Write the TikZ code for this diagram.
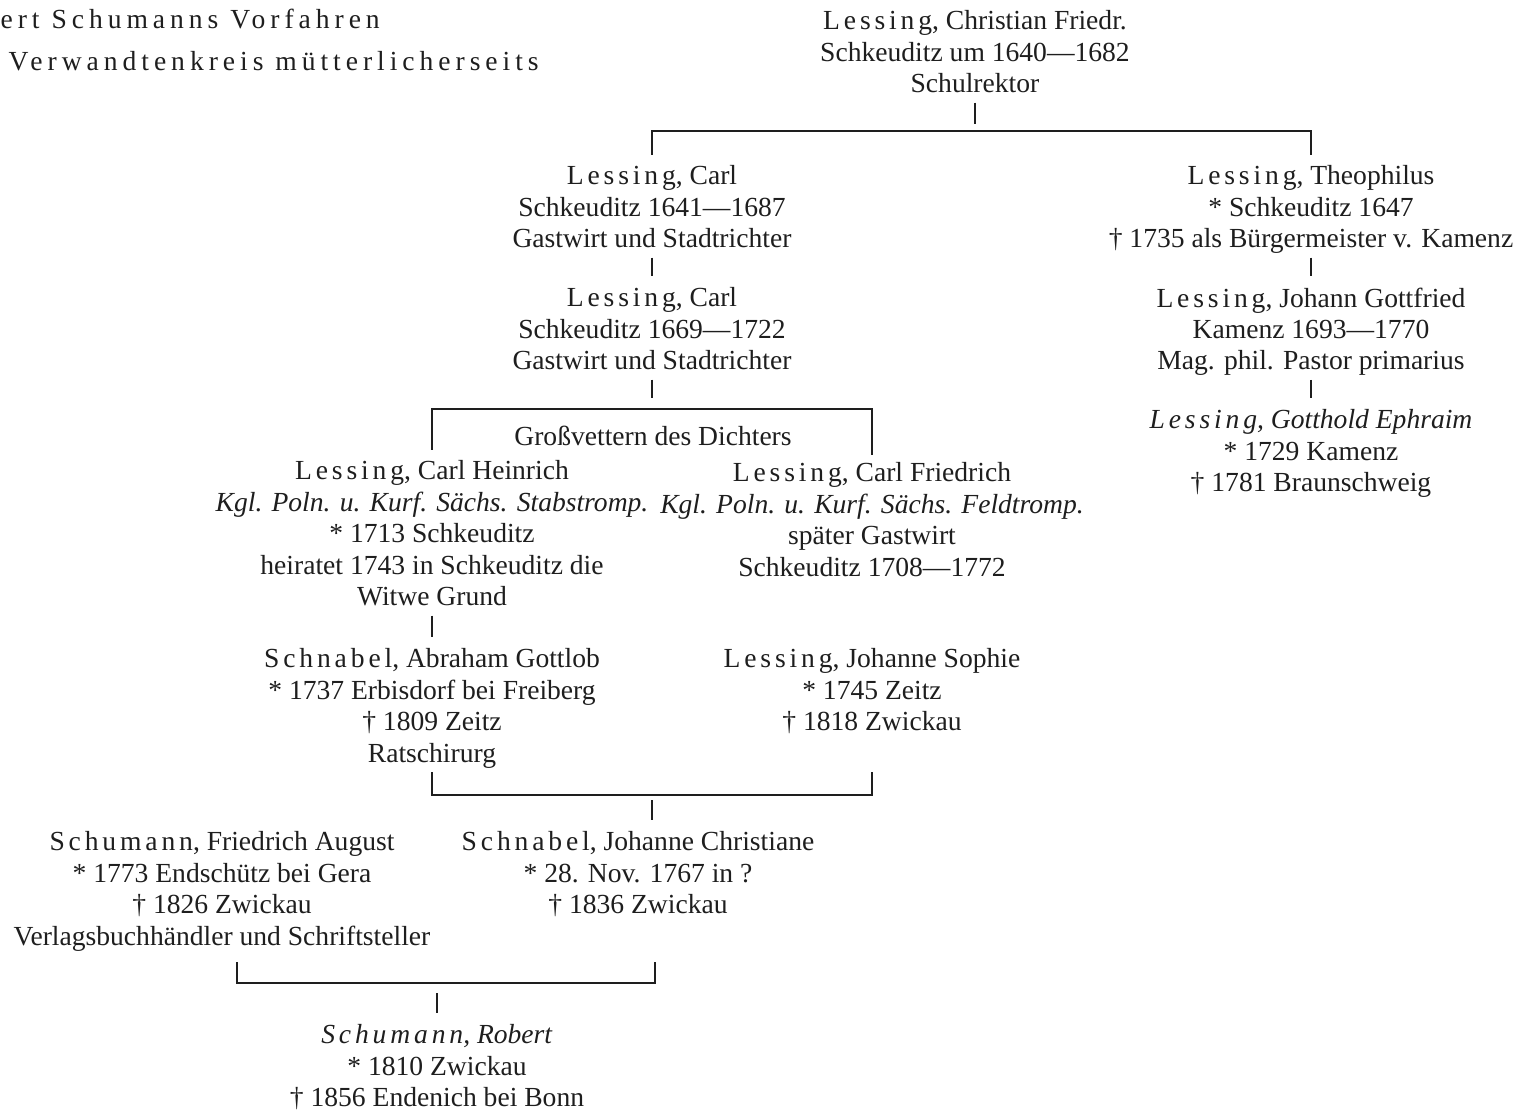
\documentclass[tikz,border=0pt]{standalone}
\usepackage{fontspec}
\setmainfont{Liberation Serif}
\definecolor{tink}{RGB}{30,30,30}
\newcommand\sperr[1]{{\addfontfeature{LetterSpace=14}#1}}
\newcommand\titelsperr[1]{{\addfontfeature{LetterSpace=18}#1}}

\begin{document}
\begin{tikzpicture}[x=0.02cm,y=-0.02cm,line width=0.7pt,
  every node/.style={text=tink,font=\fontsize{15.7}{17.9}\selectfont},
  person/.style={align=center,inner sep=0pt,anchor=north,
    execute at begin node=\strut,execute at end node=\strut},
  tick/.style={draw=tink,shorten >=6.5pt}]
  \useasboundingbox (0,0) rectangle (1526,1115);
  \node[anchor=base west,inner sep=0pt] (titel) at (0,29) {\titelsperr{ert Schumanns Vorfahren}};
  \node[anchor=base west,inner sep=0pt] (untertitel) at (8,71) {\titelsperr{Verwandtenkreis mütterlicherseits}};

  \node[person] (root) at (975,10) {\sperr{Lessing}, Christian Friedr.\\Schkeuditz um 1640—1682\\Schulrektor};
  \node[person] (carlA) at (652,165) {\sperr{Lessing}, Carl\\Schkeuditz 1641—1687\\Gastwirt und Stadtrichter};
  \node[person] (carlB) at (652,287) {\sperr{Lessing}, Carl\\Schkeuditz 1669—1722\\Gastwirt und Stadtrichter};
  \node[person] (theo) at (1311,165) {\sperr{Lessing}, Theophilus\\* Schkeuditz 1647\\† 1735 als Bürgermeister v. Kamenz};
  \node[person] (jg) at (1311,287) {\sperr{Lessing}, Johann Gottfried\\Kamenz 1693—1770\\Mag. phil. Pastor primarius};
  \node[person] (gotthold) at (1311,409) {\textit{\sperr{Lessing}, Gotthold Ephraim}\\* 1729 Kamenz\\† 1781 Braunschweig};
  \node (vettern) at (653,436) {Großvettern des Dichters};
  \node[person] (carlH) at (432,460) {\sperr{Lessing}, Carl Heinrich\\\textit{Kgl. Poln. u. Kurf. Sächs. Stabstromp.}\\* 1713 Schkeuditz\\heiratet 1743 in Schkeuditz die\\Witwe Grund};
  \node[person] (carlF) at (872,462) {\sperr{Lessing}, Carl Friedrich\\\textit{Kgl. Poln. u. Kurf. Sächs. Feldtromp.}\\später Gastwirt\\Schkeuditz 1708—1772};
  \node[person] (abraham) at (432,648) {\sperr{Schnabel}, Abraham Gottlob\\* 1737 Erbisdorf bei Freiberg\\† 1809 Zeitz\\Ratschirurg};
  \node[person] (sophie) at (872,648) {\sperr{Lessing}, Johanne Sophie\\* 1745 Zeitz\\† 1818 Zwickau};
  \node[person] (august) at (222,831) {\sperr{Schumann}, Friedrich August\\* 1773 Endschütz bei Gera\\† 1826 Zwickau\\Verlagsbuchhändler und Schriftsteller};
  \node[person] (christiane) at (638,831) {\sperr{Schnabel}, Johanne Christiane\\* 28. Nov. 1767 in ?\\† 1836 Zwickau};
  \node[person] (robert) at (437,1024) {\textit{\sperr{Schumann}, Robert}\\* 1810 Zwickau\\† 1856 Endenich bei Bonn};

  \coordinate (bar1) at (975,131);
  \coordinate (bar2) at (652,409);
  \coordinate (bar4) at (652,795);
  \coordinate (bar5) at (437,983);
  \coordinate (elternL) at (237,962);
  \coordinate (elternR) at (655,962);

  \draw[tick,shorten >=4pt] (root.south) -- (bar1);
  \draw[tink] ([yshift=5.7pt]carlA.north) |- (bar1) -| ([yshift=5.7pt]theo.north);
  \draw[tick] (carlA.south) -- (carlB.north);
  \draw[tick] (theo.south) -- (jg.north);
  \draw[tick] (jg.south) -- (gotthold.north);
  \draw[tick] (carlB.south) -- (bar2);
  \draw[tink] ([yshift=5.7pt]carlH.north) |- (bar2) -| ([yshift=4pt]carlF.north);
  \draw[tick] (carlH.south) -- (abraham.north);
  \draw[tink] (abraham.south) |- (bar4) -| (abraham.south -| sophie.south);
  \draw[tick] ([yshift=-3pt]bar4) -- (bar4 |- christiane.north);
  \draw[tink] (elternL) |- (bar5) -| (elternR);
  \draw[tick] ([yshift=-5.7pt]bar5) -- (robert.north);
\end{tikzpicture}
\end{document}
